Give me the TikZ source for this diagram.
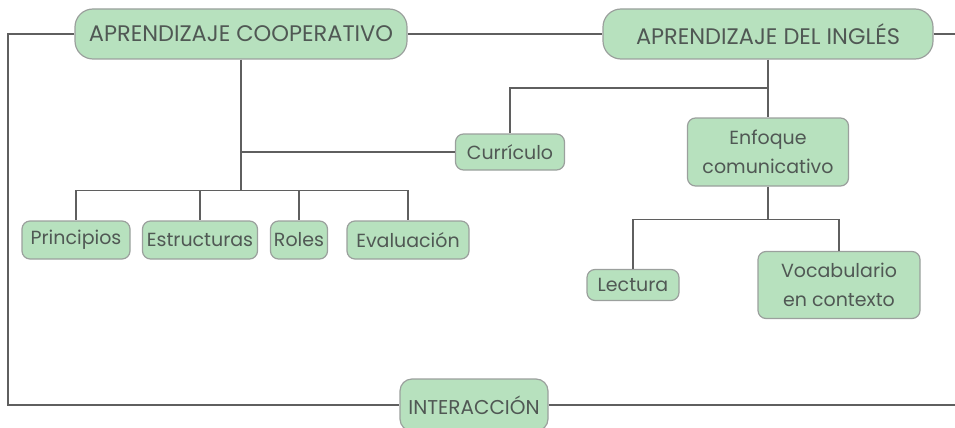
\documentclass[tikz,border=0pt]{standalone}
\usepackage{fontspec}
\setmainfont{Poppins}
\usetikzlibrary{positioning, calc}
\definecolor{mintfill}{RGB}{183,225,190}
\definecolor{boxgray}{RGB}{155,160,157}
\definecolor{linegray}{RGB}{95,95,95}
\definecolor{inkgray}{RGB}{80,88,84}

\begin{document}
\begin{tikzpicture}[
    x=1pt, y=-1pt,
    every node/.style={text=inkgray},
    topic/.style={rectangle, draw=boxgray, line width=1.2pt, fill=mintfill, rounded corners=18pt, inner sep=0pt, minimum height=50pt, align=center, font=\fontsize{22.5}{26}\selectfont},
    leaf/.style={rectangle, draw=boxgray, line width=1.2pt, fill=mintfill, rounded corners=8pt, inner sep=0pt, minimum height=38pt, align=center, font=\fontsize{19}{29}\selectfont},
    link/.style={draw=linegray, line width=1.4pt}
]
\useasboundingbox (0,0) rectangle (955,428);

% main topics
\node[topic, minimum width=332pt] (coop) at (241,34) {APRENDIZAJE COOPERATIVO};
\node[topic, minimum width=330pt] (ingles) at (768,34) {APRENDIZAJE DEL INGLÉS};
\node[topic, minimum width=148pt, minimum height=52pt, rounded corners=12pt, font=\fontsize{20}{24}\selectfont] (inter) at (474,405) {INTERACCIÓN};

% cooperativo branch
\node[leaf, minimum width=108pt] (prin) at (76,240) {Principios};
\node[leaf, minimum width=115pt] (estr) at (200,240) {Estructuras};
\node[leaf, minimum width=57pt] (roles) at (299,240) {Roles};
\node[leaf, minimum width=122pt] (eval) at (408,240) {Evaluación};
\node[leaf, minimum width=109pt, minimum height=36pt] (curr) at (510,152) {Currículo};

% ingles branch
\node[leaf, minimum width=161pt, minimum height=68pt] (enfo) at (768,152) {Enfoque\\comunicativo};
\node[leaf, minimum width=92pt, minimum height=31pt] (lect) at (633,285) {Lectura};
\node[leaf, minimum width=162pt, minimum height=67pt] (voca) at (839,285) {Vocabulario\\en contexto};

\coordinate (leftrail) at (8,0);
\coordinate (rightrail) at (955,0);

% outer frame
\draw[link] (coop.west) -| (leftrail |- inter.west) -- (inter.west);
\draw[link] (coop.east) -- (ingles.west);
\draw[link] (ingles.east) -- (rightrail |- ingles.east);
\draw[link] (inter.east) -- (rightrail |- inter.east);

% cooperativo tree
\draw[link] (coop.south) -- ++(0,131) coordinate (chub);
\foreach \leafname in {prin, estr, roles, eval}
  \draw[link] (chub) -| (\leafname.north);
\draw[link] (curr.west) -- (curr.west -| coop.south);

% ingles tree
\draw[link] (ingles.south) -- (enfo.north);
\draw[link] (curr.north) |- (ingles.south |- 0,88);
\draw[link] (enfo.south) -- ++(0,33) coordinate (ehub);
\draw[link] (ehub) -| (lect.north);
\draw[link] (ehub) -| (voca.north);

\end{tikzpicture}
\end{document}
